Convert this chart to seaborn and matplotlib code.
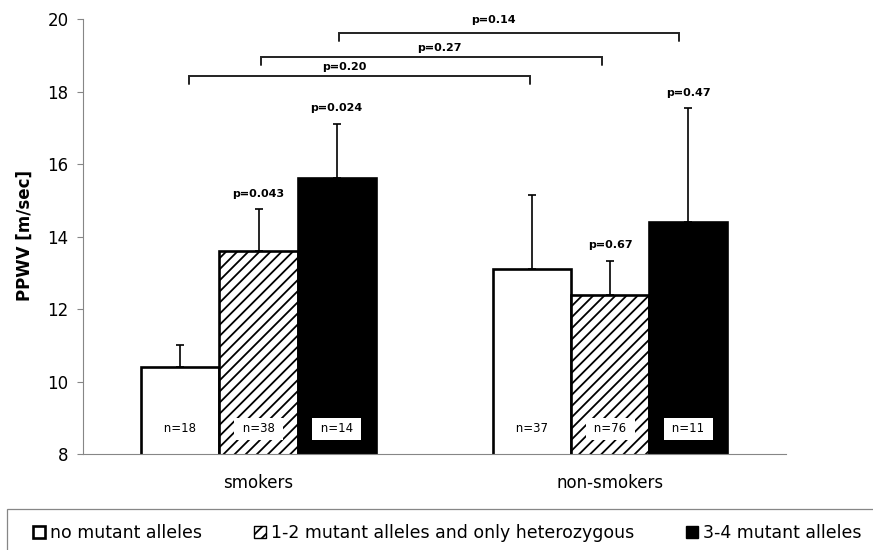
import matplotlib
matplotlib.use("Agg")
import matplotlib.pyplot as plt
from matplotlib.patches import Patch, Rectangle
import seaborn as sns
import pandas as pd

# ---------------- data ----------------
groups = ["smokers", "non-smokers"]
alleles = ["no mutant alleles", "1-2 mutant alleles and only heterozygous", "3-4 mutant alleles"]
means_smokers = [10.40, 13.61, 15.61]
means_nonsmokers = [13.10, 12.40, 14.42]
sd_smokers = [0.62, 1.15, 1.51]
sd_nonsmokers = [2.05, 0.94, 3.14]
n_smokers = [18, 38, 14]
n_nonsmokers = [37, 76, 11]
p_smokers = [None, "p=0.043", "p=0.024"]
p_nonsmokers = [None, "p=0.67", "p=0.47"]
yticks = [8, 10, 12, 14, 16, 18, 20]

# comparison brackets: (x_left, x_right, y_line, label, label_x, label_y)
brackets = [
    (-0.198, 0.772, 18.44, "p=0.20", 0.243, 18.69),
    (0.007, 0.976, 18.95, "p=0.27", 0.513, 19.21),
    (0.229, 1.195, 19.63, "p=0.14", 0.669, 19.98),
]

df = pd.DataFrame({
    "group": [g for g in groups for _ in alleles],
    "allele": alleles * 2,
    "mean": means_smokers + means_nonsmokers,
    "sd": sd_smokers + sd_nonsmokers,
    "n": n_smokers + n_nonsmokers,
    "p": p_smokers + p_nonsmokers,
})

# ---------------- style ----------------
sns.set_style("white")
plt.rcParams["font.family"] = ["DejaVu Sans"]
plt.rcParams["text.color"] = "black"
plt.rcParams["axes.labelcolor"] = "black"
plt.rcParams["xtick.labelcolor"] = "black"
plt.rcParams["ytick.labelcolor"] = "black"
plt.rcParams["hatch.linewidth"] = 1.3
plt.rcParams["hatch.color"] = "black"

fig = plt.figure(figsize=(8.73, 5.5), dpi=100)
ax = fig.add_axes([82.7 / 873, 1 - 454.3 / 550, 703.3 / 873, 435 / 550])

palette = {alleles[0]: "white", alleles[1]: "white", alleles[2]: "black"}
sns.barplot(data=df, x="group", y="mean", hue="allele", order=groups,
            hue_order=alleles, palette=palette, width=0.667, gap=0,
            errorbar=None, legend=False, ax=ax,
            edgecolor="black", linewidth=1.9, saturation=1)

bars = sorted([p for p in ax.patches if isinstance(p, Rectangle)], key=lambda r: r.get_x())
hatches = [None, "///", None]
for i, bar in enumerate(bars):
    bar.set_hatch(hatches[i % 3])
    bar.set_zorder(2)

xs = [b.get_x() + b.get_width() / 2 for b in bars]
ax.errorbar(xs, df["mean"], yerr=[[0] * len(xs), df["sd"]], fmt="none",
            ecolor="black", elinewidth=1.2, capsize=3.1, capthick=1.2, zorder=1)

for x, row in zip(xs, df.itertuples()):
    ax.text(x, 8.70, f" n={row.n} ", ha="center", va="center", fontsize=8.5,
            color="black", zorder=5,
            bbox=dict(boxstyle="square,pad=0.4", facecolor="white", edgecolor="none"))
    if row.p:
        ax.text(x, row.mean + row.sd + 0.42, row.p, ha="center", va="center",
                fontsize=8, fontweight="bold", color="black")

for xl, xr, yl, lab, lx, ly in brackets:
    ax.plot([xl, xl, xr, xr], [yl - 0.22, yl, yl, yl - 0.22], color="#222222",
            lw=1.4, solid_joinstyle="miter", clip_on=False)
    ax.text(lx, ly, lab, ha="center", va="center", fontsize=8,
            fontweight="bold", color="black")

# ---------------- axes ----------------
ax.set_ylim(8, 20)
ax.set_xlim(-0.5, 1.5)
ax.set_yticks(yticks)
ax.set_yticklabels([str(t) for t in yticks], fontsize=12, color="black")
ax.set_xticks([0, 1])
ax.set_xticklabels(groups, fontsize=12, color="black")
ax.set_xticks([-0.5, 0.5, 1.5], minor=True)
ax.tick_params(axis="x", which="major", length=0, pad=14)
ax.tick_params(axis="x", which="minor", length=6, width=0.8, color="#868686", direction="out")
ax.tick_params(axis="y", length=4.3, width=0.8, color="#868686", direction="out", pad=6, left=True)
ax.set_xlabel("")
ax.set_ylabel("PPWV [m/sec]", fontsize=12, fontweight="bold", color="black")
ax.yaxis.set_label_coords(-0.069, 0.502)
for s in ["top", "right"]:
    ax.spines[s].set_visible(False)
for s in ["left", "bottom"]:
    ax.spines[s].set_color("#868686")
    ax.spines[s].set_linewidth(0.8)

# ---------------- legend ----------------
handles = [
    Patch(facecolor="white", edgecolor="black", linewidth=1.9),
    Patch(facecolor="white", edgecolor="black", linewidth=1.0, hatch="///"),
    Patch(facecolor="black", edgecolor="black", linewidth=1.0),
]
leg = fig.legend(handles, alleles, loc="center left", bbox_to_anchor=(33 / 873, 1 - 533.5 / 550),
                 ncol=3, frameon=False, fontsize=12.5, handlelength=0.69, handleheight=0.69,
                 handletextpad=0.3, columnspacing=2.98, borderaxespad=0, borderpad=0)
for t in leg.get_texts():
    t.set_color("black")
fig.patches.append(Rectangle((7.3 / 873, -0.5), 2, 0.5 + (1 - 509.3 / 550),
                             transform=fig.transFigure, fill=False,
                             edgecolor="#868686", linewidth=0.9))

fig.savefig("out.png", dpi=100)
